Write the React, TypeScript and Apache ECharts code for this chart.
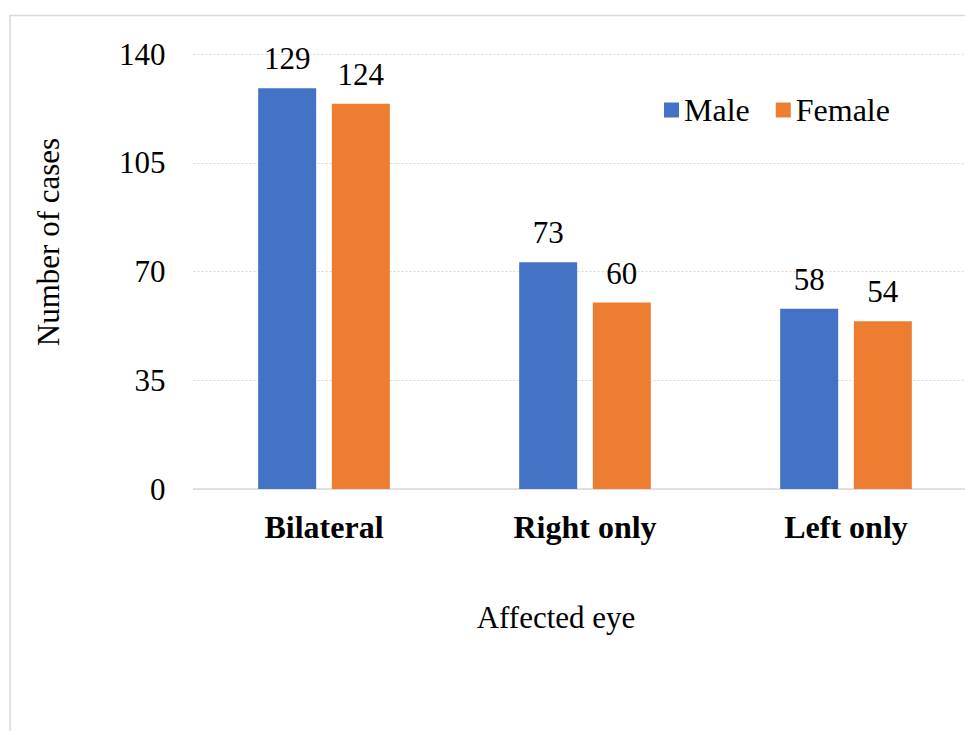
import React, { useEffect, useRef } from "react";
import * as echarts from "echarts";

const categories = ["Bilateral", "Right only", "Left only"];
const maleCases = [129, 73, 58];
const femaleCases = [124, 60, 54];
const yTicks = { min: 0, max: 140, interval: 35 };

const SERIF = "Liberation Serif";

export default function App() {
  const ref = useRef<HTMLDivElement>(null);

  useEffect(() => {
    if (!ref.current) return;
    const chart = echarts.init(ref.current, null, { renderer: "svg" });
    const valueLabel = {
      show: true,
      position: "top",
      distance: 14,
      fontFamily: SERIF,
      fontSize: 31,
      color: "#000",
    };
    chart.setOption({
      animation: false,
      backgroundColor: "#ffffff",
      textStyle: { fontFamily: SERIF, color: "#000" },
      grid: {
        left: 193.5,
        width: 783,
        top: 54,
        height: 435,
        containLabel: false,
        outerBoundsMode: "none",
      },
      legend: {
        data: ["Male", "Female"],
        left: 659,
        top: 89,
        itemWidth: 15,
        itemHeight: 15,
        itemGap: 26,
        icon: "rect",
        textStyle: { fontFamily: SERIF, fontSize: 32, color: "#000" },
      },
      xAxis: {
        type: "category",
        data: categories,
        axisLine: { show: true, lineStyle: { color: "#d9d9d9", width: 1.5 } },
        axisTick: { show: false },
        axisLabel: {
          fontFamily: SERIF,
          fontSize: 32,
          fontWeight: "bold",
          color: "#000",
          margin: 22,
        },
      },
      yAxis: {
        type: "value",
        min: yTicks.min,
        max: yTicks.max,
        interval: yTicks.interval,
        axisLine: { show: false },
        axisTick: { show: false },
        splitLine: { show: true, lineStyle: { color: "#d9d9d9", type: [2, 2], width: 1 } },
        axisLabel: { fontFamily: SERIF, fontSize: 31, color: "#000", margin: 28 },
      },
      series: [
        {
          name: "Male",
          type: "bar",
          data: maleCases,
          barWidth: 58,
          barGap: "27%",
          itemStyle: { color: "#4472c4" },
          label: valueLabel,
        },
        {
          name: "Female",
          type: "bar",
          data: femaleCases,
          barWidth: 58,
          itemStyle: { color: "#ed7d31" },
          label: valueLabel,
        },
      ],
      graphic: [
        {
          type: "rect",
          shape: { x: 10, y: 15.5, width: 1000, height: 730 },
          style: { fill: "none", stroke: "#d9d9d9", lineWidth: 1.5 },
          silent: true,
        },
        {
          type: "text",
          x: 556,
          y: 617,
          style: {
            text: "Affected eye",
            fontFamily: SERIF,
            fontSize: 31,
            fill: "#000",
            align: "center",
            verticalAlign: "middle",
          },
        },
        {
          type: "text",
          x: 48,
          y: 242,
          rotation: Math.PI / 2,
          style: {
            text: "Number of cases",
            fontFamily: SERIF,
            fontSize: 31,
            fill: "#000",
            align: "center",
            verticalAlign: "middle",
          },
        },
      ],
    });
    return () => chart.dispose();
  }, []);

  return (
    <div
      ref={ref}
      style={{ position: "fixed", left: 0, top: 0, width: 965, height: 731 }}
    />
  );
}
